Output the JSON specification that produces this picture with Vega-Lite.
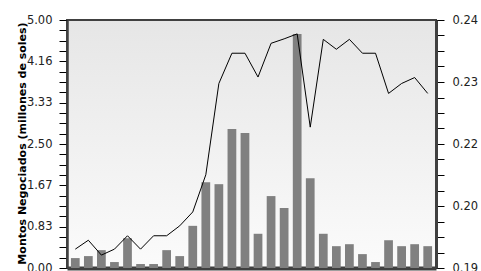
{
  "$schema": "https://vega.github.io/schema/vega-lite/v6.json",
  "width": 369,
  "height": 248,
  "autosize": {"type": "none"},
  "padding": {"left": 67, "top": 20, "right": 45, "bottom": 3},
  "background": "white",
  "config": {
    "font": "DejaVu Sans",
    "view": {
      "stroke": "#404040",
      "strokeWidth": 2,
      "fill": {"gradient": "linear", "x1": 0, "y1": 0, "x2": 0, "y2": 1, "stops": [{"offset": 0, "color": "#e6e6e6"}, {"offset": 1, "color": "#fbfbfb"}]}
    },
    "axis": {"grid": false, "labelFont": "DejaVu Sans", "labelFontSize": 11.5, "labelColor": "#222222", "labelOverlap": false, "labelFlush": false, "domainColor": "#404040"}
  },
  "data": {
    "values": [
      {"t": 1, "monto": 0.20, "precio": 0.1938},
      {"t": 2, "monto": 0.24, "precio": 0.1956},
      {"t": 3, "monto": 0.36, "precio": 0.1926},
      {"t": 4, "monto": 0.12, "precio": 0.1938},
      {"t": 5, "monto": 0.60, "precio": 0.1965},
      {"t": 6, "monto": 0.08, "precio": 0.1938},
      {"t": 7, "monto": 0.08, "precio": 0.1965},
      {"t": 8, "monto": 0.36, "precio": 0.1965},
      {"t": 9, "monto": 0.24, "precio": 0.1985},
      {"t": 10, "monto": 0.85, "precio": 0.2013},
      {"t": 11, "monto": 1.73, "precio": 0.2088},
      {"t": 12, "monto": 1.69, "precio": 0.2272},
      {"t": 13, "monto": 2.80, "precio": 0.2333},
      {"t": 14, "monto": 2.72, "precio": 0.2333},
      {"t": 15, "monto": 0.69, "precio": 0.2285},
      {"t": 16, "monto": 1.45, "precio": 0.2353},
      {"t": 17, "monto": 1.21, "precio": 0.2362},
      {"t": 18, "monto": 4.72, "precio": 0.2372},
      {"t": 19, "monto": 1.81, "precio": 0.2184},
      {"t": 20, "monto": 0.69, "precio": 0.2361},
      {"t": 21, "monto": 0.44, "precio": 0.2341},
      {"t": 22, "monto": 0.48, "precio": 0.2361},
      {"t": 23, "monto": 0.28, "precio": 0.2333},
      {"t": 24, "monto": 0.12, "precio": 0.2333},
      {"t": 25, "monto": 0.56, "precio": 0.2252},
      {"t": 26, "monto": 0.44, "precio": 0.2272},
      {"t": 27, "monto": 0.48, "precio": 0.2284},
      {"t": 28, "monto": 0.44, "precio": 0.2252}
    ]
  },
  "encoding": {
    "x": {
      "field": "t",
      "type": "ordinal",
      "scale": {"paddingInner": 0.33, "paddingOuter": 0.3},
      "axis": {"labels": false, "ticks": false, "title": null, "domainColor": "#404040", "domainWidth": 4}
    }
  },
  "layer": [
    {
      "mark": {"type": "bar", "color": "#808080"},
      "encoding": {
        "y": {
          "field": "monto",
          "type": "quantitative",
          "scale": {"domain": [0, 5], "nice": false, "zero": true},
          "axis": {
            "orient": "left",
            "title": "Montos Negociados (millones de soles)",
            "titleFont": "DejaVu Sans",
            "titleFontSize": 11,
            "titleFontWeight": "bold",
            "titleColor": "#000000",
            "titleAngle": -90,
            "titleX": -42,
            "titleY": 123,
            "titleAlign": "center",
            "titleBaseline": "alphabetic",
            "domainWidth": 2.5,
            "ticks": true,
            "tickSize": 8,
            "tickColor": "#000000",
            "tickWidth": 1,
            "values": [0, 0.208333, 0.416667, 0.625, 0.833333, 1.041667, 1.25, 1.458333, 1.666667, 1.875, 2.083333, 2.291667, 2.5, 2.708333, 2.916667, 3.125, 3.333333, 3.541667, 3.75, 3.958333, 4.166667, 4.375, 4.583333, 4.791667, 5],
            "labelExpr": "round(datum.value*24/5) % 4 == 0 ? ['0.00','0.83','1.67','2.50','3.33','4.16','5.00'][round(datum.value*24/5)/4] : ''",
            "labelPadding": 7
          }
        }
      }
    },
    {
      "mark": {"type": "line", "color": "#000000", "strokeWidth": 1},
      "encoding": {
        "y": {
          "field": "precio",
          "type": "quantitative",
          "scale": {"domain": [0.19, 0.24], "nice": false, "zero": false},
          "axis": {
            "orient": "right",
            "title": null,
            "domainWidth": 3,
            "ticks": true,
            "tickSize": 8,
            "tickColor": "#000000",
            "tickWidth": 1,
            "values": [0.19, 0.193125, 0.19625, 0.199375, 0.2025, 0.205625, 0.20875, 0.211875, 0.215, 0.218125, 0.22125, 0.224375, 0.2275, 0.230625, 0.23375, 0.236875, 0.24],
            "labelExpr": "round((datum.value-0.19)/0.003125) % 4 == 0 ? ['0.19','0.20','0.22','0.23','0.24'][round((datum.value-0.19)/0.003125)/4] : ''",
            "labelPadding": 8
          }
        }
      }
    }
  ],
  "resolve": {"scale": {"y": "independent"}}
}
